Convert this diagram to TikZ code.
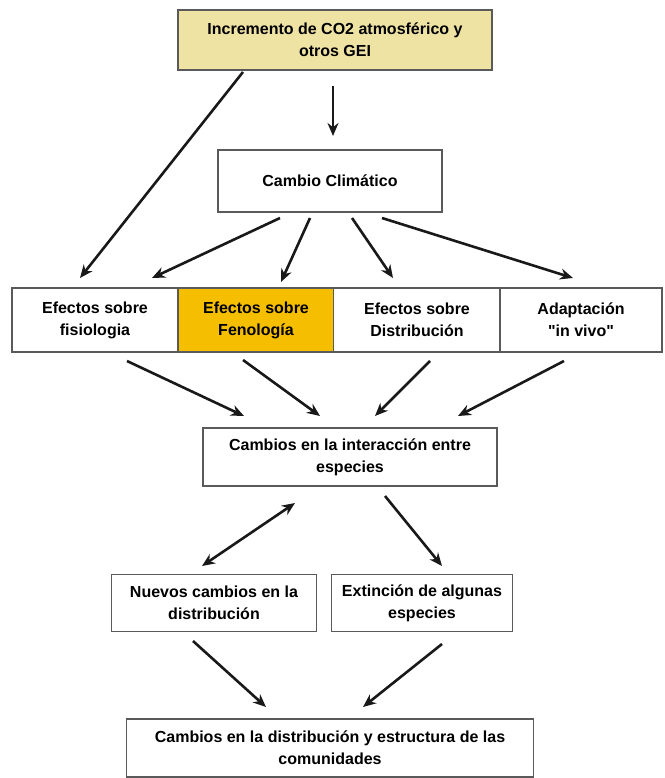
\documentclass[tikz,border=0pt]{standalone}
\usepackage{fontspec}
\setmainfont{Liberation Sans}
\usepackage{tikz}
\usetikzlibrary{arrows.meta,calc,positioning}
\definecolor{geifill}{HTML}{EFE3A4}
\definecolor{fenfill}{HTML}{F5BF00}
\definecolor{boxline}{HTML}{5A5A5A}
\tikzset{
  box/.style={draw=boxline,line width=1.5pt,fill=white,align=center,inner sep=2pt,
    font=\fontsize{16}{22}\selectfont\bfseries},
  arr/.style={line width=2.6pt,black!90,-{Stealth[length=13pt,width=11pt]}},
  darr/.style={line width=2.6pt,black!90,{Stealth[length=13pt,width=11pt]}-{Stealth[length=13pt,width=11pt]}},
}
\begin{document}
\begin{tikzpicture}[x=1pt,y=-1pt]
    \useasboundingbox (0,0) rectangle (664,778);
    % --- boxes ---
    \node[box,fill=geifill,minimum width=314pt,minimum height=60pt] (gei) at (335,40) {Incremento de CO2 atmosférico y\\ otros GEI};
    \node[box,minimum width=224pt,minimum height=62pt] (cc) at (330,181) {Cambio Climático};
    \node[box,minimum width=166pt,minimum height=64pt] (fis) at (95,320) {Efectos sobre\\ fisiologia};
    \node[box,fill=fenfill,minimum width=155pt,minimum height=64pt] (fen) at (256,320) {Efectos sobre\\ Fenología};
    \node[box,minimum width=167pt,minimum height=64pt] (dis) at (417,320) {Efectos sobre\\ Distribución};
    \node[box,minimum width=162pt,minimum height=64pt] (ada) at (581,320) {Adaptación\\ \textquotedbl in vivo\textquotedbl};
    \node[box,minimum width=294pt,minimum height=58pt] (int) at (350,457) {Cambios en la interacción entre\\ especies};
    \node[box,minimum width=205pt,minimum height=57pt] (nue) at (214,603) {Nuevos cambios en la\\ distribución};
    \node[box,minimum width=181pt,minimum height=57pt] (ext) at (422,603) {Extinción de algunas\\ especies};
    \node[box,minimum width=407pt,minimum height=58pt] (com) at (330,748) {Cambios en la distribución y estructura de las\\ comunidades};
    % --- arrow ends ---
    \coordinate (g1) at (333,86);   \coordinate (g2) at (333,136);
    \coordinate (g3) at (243,72);   \coordinate (g4) at (80,278);
    \coordinate (c1) at (280,218);  \coordinate (c1e) at (152,278);
    \coordinate (c2) at (310,218);  \coordinate (c2e) at (281,282);
    \coordinate (c3) at (352,218);  \coordinate (c3e) at (393,278);
    \coordinate (c4) at (382,218);  \coordinate (c4e) at (573,278);
    \coordinate (r1) at (127,361);  \coordinate (r1e) at (244,416);
    \coordinate (r2) at (243,360);  \coordinate (r2e) at (320,416);
    \coordinate (r3) at (430,361);  \coordinate (r3e) at (375,416);
    \coordinate (r4) at (564,361);  \coordinate (r4e) at (458,416);
    \coordinate (i1) at (295,503);  \coordinate (i1e) at (202,566);
    \coordinate (i2) at (385,496);  \coordinate (i2e) at (442,566);
    \coordinate (n1) at (193,641);  \coordinate (n1e) at (266,707);
    \coordinate (x1) at (442,644);  \coordinate (x1e) at (363,707);
    % --- arrows ---
    \draw[arr] (g1) -- (g2);
    \draw[arr] (g3) -- (g4);
    \foreach \a in {1,2,3,4} \draw[arr] (c\a) -- (c\a e);
    \foreach \a in {1,2,3,4} \draw[arr] (r\a) -- (r\a e);
    \draw[darr] (i1) -- (i1e);
    \draw[arr] (i2) -- (i2e);
    \draw[arr] (n1) -- (n1e);
    \draw[arr] (x1) -- (x1e);
\end{tikzpicture}
\end{document}
